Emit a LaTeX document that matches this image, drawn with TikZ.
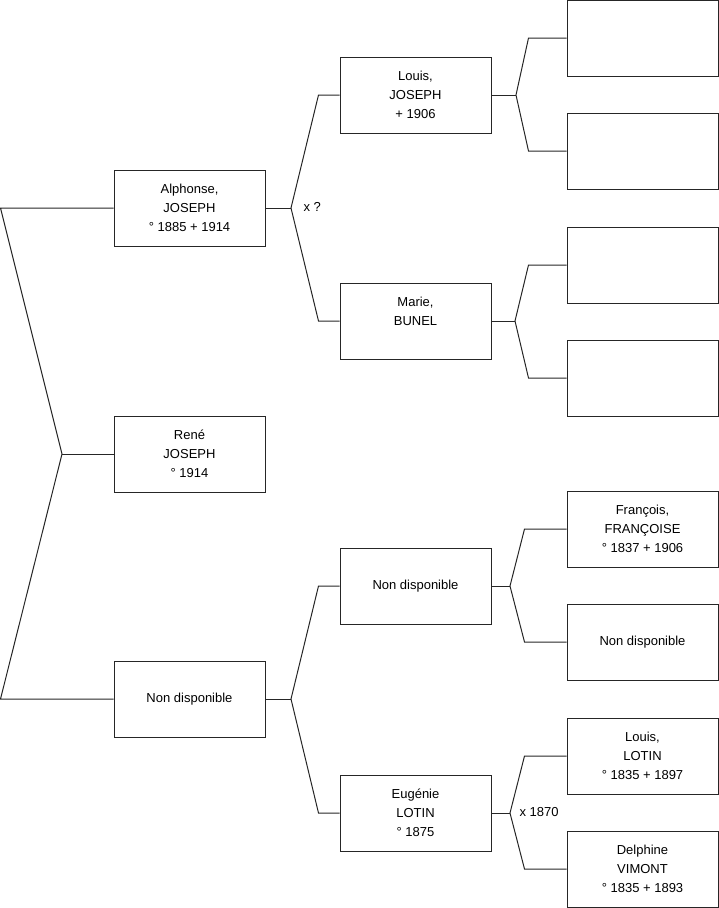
\documentclass[tikz,border=0pt]{standalone}
\usepackage{fontspec}
\setmainfont{Liberation Sans}
\usepackage{tikz}
\usetikzlibrary{positioning}
\definecolor{TreeLine}{HTML}{262626}

\begin{document}
\begin{tikzpicture}[x=1pt,y=-1pt,line width=1pt]
  \tikzstyle{personbox}=[draw=TreeLine,minimum width=151pt,minimum height=76pt,
    inner sep=0pt,align=center,font=\fontsize{13}{19}\selectfont]
  \tikzstyle{union}=[font=\fontsize{13}{19}\selectfont,inner sep=0pt]
  \useasboundingbox (0,0) rectangle (719,908);
  % generation 1 and 2
  \node[personbox] (rene) at (189.5,454) {René\\JOSEPH\\° 1914};
  \node[personbox] (alph) at (189.5,208) {Alphonse,\\JOSEPH\\° 1885 + 1914};
  \node[personbox] (mere) at (189.5,699) {Non disponible};
  % generation 3
  \node[personbox] (louisj) at (415.5,95) {Louis,\\JOSEPH\\+ 1906};
  \node[personbox] (marie) at (415.5,321) {Marie,\\BUNEL\\\mbox{}};
  \node[personbox] (grandm) at (415.5,586) {Non disponible};
  \node[personbox] (eugenie) at (415.5,813) {Eugénie\\LOTIN\\° 1875};
  % generation 4
  \node[personbox] (p1) at (642.5,38) {};
  \node[personbox] (p2) at (642.5,151) {};
  \node[personbox] (p3) at (642.5,265) {};
  \node[personbox] (p4) at (642.5,378) {};
  \node[personbox] (francois) at (642.5,529) {François,\\FRANÇOISE\\° 1837 + 1906};
  \node[personbox] (p6) at (642.5,642) {Non disponible};
  \node[personbox] (louisl) at (642.5,756) {Louis,\\LOTIN\\° 1835 + 1897};
  \node[personbox] (delphine) at (642.5,869) {Delphine\\VIMONT\\° 1835 + 1893};
  % forks
  \coordinate (edge) at (0.5,0);
  \coordinate (f0) at (62,454);
  \draw[TreeLine] (rene.west) -- (f0);
  \draw[TreeLine] (alph.west) -- (alph.west -| edge) -- (f0)
    -- (mere.west -| edge) -- (mere.west);
  \coordinate (f1) at (291,208);
  \draw[TreeLine] (alph.east) -- (f1);
  \draw[TreeLine] (louisj.west) -- ++(-21,0) -- (f1)
    -- ([xshift=-21pt]marie.west) -- (marie.west);
  \coordinate (f2) at (291,699);
  \draw[TreeLine] (mere.east) -- (f2);
  \draw[TreeLine] (grandm.west) -- ++(-21,0) -- (f2)
    -- ([xshift=-21pt]eugenie.west) -- (eugenie.west);
  \coordinate (f3) at (516,95);
  \draw[TreeLine] (louisj.east) -- (f3);
  \draw[TreeLine] (p1.west) -- ++(-38,0) -- (f3)
    -- ([xshift=-38pt]p2.west) -- (p2.west);
  \coordinate (f4) at (515,321);
  \draw[TreeLine] (marie.east) -- (f4);
  \draw[TreeLine] (p3.west) -- ++(-38,0) -- (f4)
    -- ([xshift=-38pt]p4.west) -- (p4.west);
  \coordinate (f5) at (510,586);
  \draw[TreeLine] (grandm.east) -- (f5);
  \draw[TreeLine] (francois.west) -- ++(-42,0) -- (f5)
    -- ([xshift=-42pt]p6.west) -- (p6.west);
  \coordinate (f6) at (510,813);
  \draw[TreeLine] (eugenie.east) -- (f6);
  \draw[TreeLine] (louisl.west) -- ++(-42,0) -- (f6)
    -- ([xshift=-42pt]delphine.west) -- (delphine.west);
  % unions
  \node[union,anchor=west] (u1) at (303,207) {x ?};
  \node[union,anchor=west] (u2) at (519,812) {x 1870};
\end{tikzpicture}
\end{document}
